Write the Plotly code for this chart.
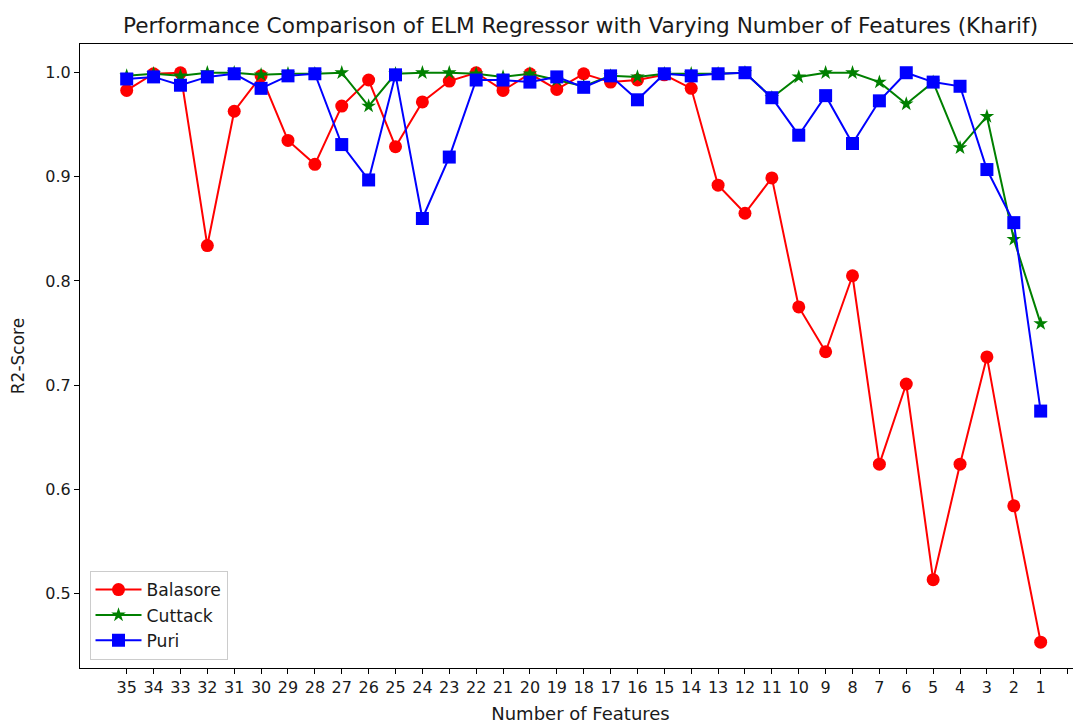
import plotly.graph_objects as go

features = [str(n) for n in range(35, 0, -1)]

balasore = [0.983, 0.999, 1.000, 0.834, 0.963, 0.997, 0.935, 0.912, 0.968, 0.993,
            0.929, 0.972, 0.992, 1.000, 0.983, 0.999, 0.984, 0.999, 0.991, 0.993,
            0.998, 0.985, 0.892, 0.865, 0.899, 0.775, 0.732, 0.805, 0.624, 0.701,
            0.513, 0.624, 0.727, 0.584, 0.453]
cuttack = [0.997, 0.999, 0.997, 1.000, 1.000, 0.998, 0.999, 0.999, 1.000, 0.968,
           0.999, 1.000, 1.000, 0.999, 0.996, 0.999, 0.993, 0.987, 0.997, 0.996,
           0.999, 0.999, 0.999, 1.000, 0.976, 0.996, 1.000, 1.000, 0.991, 0.970,
           0.991, 0.928, 0.958, 0.840, 0.759]
puri = [0.994, 0.996, 0.988, 0.996, 0.999, 0.985, 0.997, 0.999, 0.931, 0.897,
        0.998, 0.860, 0.919, 0.993, 0.993, 0.991, 0.996, 0.986, 0.997, 0.974,
        0.999, 0.997, 0.999, 1.000, 0.976, 0.940, 0.978, 0.932, 0.973, 1.000,
        0.991, 0.987, 0.907, 0.856, 0.675]

tick_labels = features + [""]
y_ticks = [0.5, 0.6, 0.7, 0.8, 0.9, 1.0]
xs = list(range(len(features)))

font = "DejaVu Sans, Arial, sans-serif"
fig = go.Figure()
fig.add_trace(go.Scatter(x=xs, y=balasore, name="Balasore", mode="lines+markers",
                         line=dict(color="#ff0000", width=2),
                         marker=dict(symbol="circle", size=13, color="#ff0000")))
fig.add_trace(go.Scatter(x=xs, y=cuttack, name="Cuttack", mode="lines+markers",
                         line=dict(color="#008000", width=2),
                         marker=dict(symbol="star", size=11, color="#008000")))
fig.add_trace(go.Scatter(x=xs, y=puri, name="Puri", mode="lines+markers",
                         line=dict(color="#0000ff", width=2),
                         marker=dict(symbol="square", size=13, color="#0000ff")))

# page body has an 8px margin, so the figure sits at (8, 8) in the window
fig.update_layout(
    width=1081, height=725,
    margin=dict(l=72, r=8, t=36, b=65, autoexpand=False),
    paper_bgcolor="white", plot_bgcolor="white",
    font=dict(family=font, size=16, color="#1a1a1a"),
    title=dict(text="Performance Comparison of ELM Regressor with Varying Number of Features (Kharif)",
               x=0.5, xref="paper", xanchor="center", y=1 - 17 / 725, yanchor="middle",
               font=dict(size=21.6, family=font, color="#1a1a1a")),
    showlegend=True,
    legend=dict(x=0.0095, y=0.013, xanchor="left", yanchor="bottom",
                bordercolor="#cccccc", borderwidth=1, bgcolor="rgba(255,255,255,0.8)",
                font=dict(size=17.2, family=font), itemwidth=46, tracegroupgap=0),
)
fig.update_xaxes(
    range=[-1.737, 35.50], tickmode="array", tickvals=list(range(len(tick_labels))),
    ticktext=tick_labels, ticks="outside", ticklen=5, tickcolor="black",
    showline=True, linecolor="black", linewidth=1.2, mirror=True, showgrid=False,
    zeroline=False, automargin=False,
    title=dict(text="Number of Features", standoff=11, font=dict(size=18)),
    tickfont=dict(size=16),
)
fig.update_yaxes(
    range=[0.4282, 1.0276], tickmode="array", tickvals=y_ticks,
    ticktext=[f"{v:.1f}" for v in y_ticks], ticks="outside", ticklen=5,
    tickcolor="black", showline=True, linecolor="black", linewidth=1.2, mirror=False,
    showgrid=False, zeroline=False, automargin=False,
    title=dict(text="R2-Score", standoff=17, font=dict(size=17)), tickfont=dict(size=16),
)
fig.write_html("out.html")
